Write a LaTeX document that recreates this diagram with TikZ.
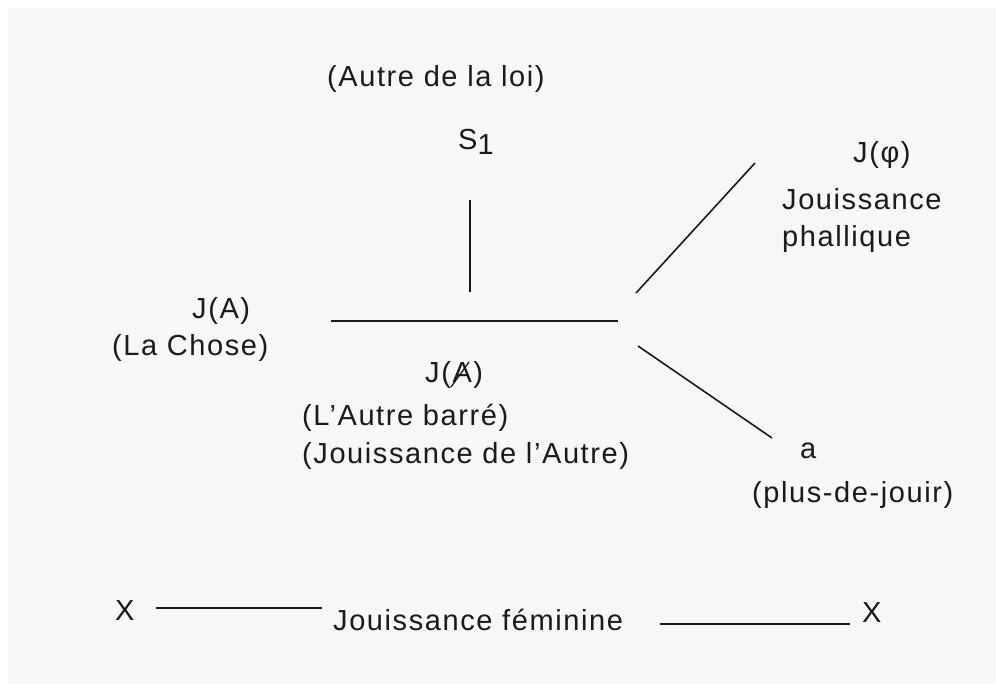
\documentclass[tikz,border=0pt]{standalone}
\usepackage{fontspec}
\setmainfont{Liberation Sans}[LetterSpace=5.5]
\definecolor{bg}{HTML}{F7F7F7}
\definecolor{ink}{HTML}{1A1A1A}
\begin{document}
\begin{tikzpicture}[x=1pt,y=-1pt,
  txt/.style={inner sep=0pt, anchor=base west, text=ink, font=\fontsize{29}{34}\selectfont},
  ln/.style={line width=1.6pt, draw=ink}]
\useasboundingbox (0,0) rectangle (996,684);
\fill[white] (0,0) rectangle (996,684);
\fill[bg] (8,8) rectangle (996,684);
% texts
\node[txt] (autre) at (327,87) {(Autre de la loi)};
\node[txt] (s1) at (458,150) {S\raisebox{-5pt}{1}};
\node[txt] (ja) at (192,319) {J(A)};
\node[txt] (chose) at (112,356) {(La Chose)};
\node[txt] (jab) at (425,383) {J(A)};
\node[txt] (barre) at (302,425) {(L’Autre barré)};
\node[txt] (jouiA) at (302,463) {(Jouissance de l’Autre)};
\node[txt] (jphi) at (853,163) {J(φ)};
\node[txt] (jouiP) at (782,210) {Jouissance};
\node[txt] (phall) at (782,247) {phallique};
\node[txt] (pa) at (800,458) {a};
\node[txt] (plus) at (752,502) {(plus-de-jouir)};
\node[txt] (xl) at (115,620) {X};
\node[txt] (fem) at (333,630) {Jouissance féminine};
\node[txt] (xr) at (862,622) {X};
% bar through the A of J(A)
\coordinate (sl1) at (451,387); \coordinate (sl2) at (469,362);
\draw[line width=1.3pt, draw=ink] (sl1) -- (sl2);
% line ends
\coordinate (v1) at (470,200); \coordinate (v2) at (470,292);
\coordinate (h1) at (331,321); \coordinate (h2) at (618,321);
\coordinate (u1) at (636,293); \coordinate (u2) at (755,163);
\coordinate (d1) at (638,346); \coordinate (d2) at (772,438);
\coordinate (b1) at (156,608); \coordinate (b2) at (322,608);
\coordinate (c1) at (660,624); \coordinate (c2) at (850,624);
\draw[ln] (v1) -- (v2);
\draw[ln] (h1) -- (h2);
\draw[ln] (u1) -- (u2);
\draw[ln] (d1) -- (d2);
\draw[ln] (b1) -- (b2);
\draw[ln] (c1) -- (c2);
\end{tikzpicture}
\end{document}
